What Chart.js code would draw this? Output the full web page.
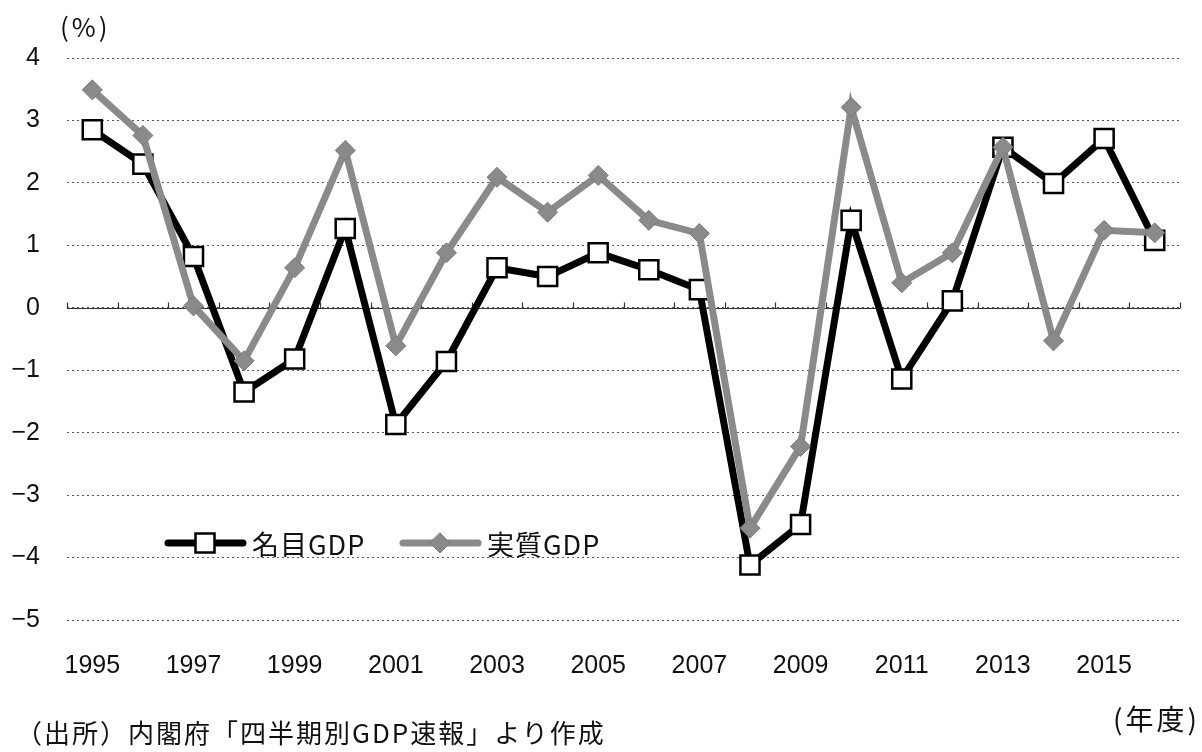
<!DOCTYPE html>
<html>
<head>
<meta charset="utf-8">
<script src="https://cdn.jsdelivr.net/npm/chart.js@4.4.0/dist/chart.umd.min.js"></script>
<style>
  body { margin: 0; background: #fff; }
  #wrap { position: relative; width: 1202px; height: 752px; }
  .txt { position: absolute; color: #111; white-space: nowrap; line-height: 1;
         font-family: "Noto Sans CJK JP", "Liberation Sans", sans-serif; }
</style>
</head>
<body>
<div id="wrap">
  <canvas id="gdp"></canvas>
  <div class="txt" style="left:60px; top:13px; font-size:26px; letter-spacing:3px;">(%)</div>
  <div class="txt" style="left:1113px; top:704px; font-size:28px; letter-spacing:3px;">(年度)</div>
  <div class="txt" style="left:16px; top:719px; font-size:26px; letter-spacing:2px;">（出所）内閣府「四半期別GDP速報」より作成</div>
</div>
<script>
// 年度
const years = ['1995','1996','1997','1998','1999','2000','2001','2002','2003','2004','2005',
  '2006','2007','2008','2009','2010','2011','2012','2013','2014','2015','2016'];

// 名目GDP 成長率 (%)
const nominalGdp = [2.85, 2.3, 0.82, -1.35, -0.82, 1.27, -1.87, -0.86, 0.64, 0.5, 0.88,
  0.61, 0.29, -4.12, -3.47, 1.4, -1.14, 0.11, 2.57, 1.99, 2.71, 1.08];

// 実質GDP 成長率 (%)
const realGdp = [3.49, 2.76, 0.03, -0.85, 0.64, 2.52, -0.61, 0.88, 2.09, 1.53, 2.12,
  1.4, 1.19, -3.53, -2.22, 3.21, 0.4, 0.88, 2.57, -0.53, 1.24, 1.2];

const yTicks = [-5, -4, -3, -2, -1, 0, 1, 2, 3, 4];

const GRAY = '#8a8a8a';

// 0 line with small tick marks at the category borders
const zeroLine = {
  id: 'zeroLine',
  beforeDatasetsDraw(chart) {
    const ctx = chart.ctx, x = chart.scales.x, y = chart.scales.y;
    const y0 = Math.round(y.getPixelForValue(0)) + 0.5;
    ctx.save();
    ctx.strokeStyle = '#333';
    ctx.lineWidth = 1.2;
    ctx.beginPath();
    ctx.moveTo(chart.chartArea.left, y0);
    ctx.lineTo(chart.chartArea.right, y0);
    for (let i = 0; i <= years.length; i++) {
      const px = Math.round(x.getPixelForValue(i - 0.5)) + 0.5;
      ctx.moveTo(px, y0);
      ctx.lineTo(px, y0 - 6);
    }
    ctx.stroke();
    ctx.restore();
  }
};

// legend drawn inside the plot like the original
const inLegend = {
  id: 'inLegend',
  afterDraw(chart) {
    const ctx = chart.ctx;
    const items = [
      { ds: chart.data.datasets[1], x: 168 },
      { ds: chart.data.datasets[0], x: 403 }
    ];
    const yy = 543;
    ctx.save();
    items.forEach(function (it) {
      const ds = it.ds;
      ctx.strokeStyle = ds.borderColor;
      ctx.lineWidth = ds.borderWidth;
      ctx.lineCap = 'round';
      ctx.beginPath();
      ctx.moveTo(it.x, yy);
      ctx.lineTo(it.x + 75, yy);
      ctx.stroke();
      const cx = it.x + 37;
      ctx.lineWidth = ds.pointBorderWidth;
      ctx.strokeStyle = ds.pointBorderColor;
      ctx.fillStyle = ds.pointBackgroundColor;
      ctx.beginPath();
      if (ds.pointStyle === 'rect') {
        ctx.rect(cx - 9.5, yy - 9.5, 19, 19);
      } else {
        const r = ds.pointRadius;
        ctx.moveTo(cx, yy - r); ctx.lineTo(cx + r, yy);
        ctx.lineTo(cx, yy + r); ctx.lineTo(cx - r, yy); ctx.closePath();
      }
      ctx.fill();
      ctx.stroke();
      ctx.fillStyle = '#111';
      ctx.font = '27px "Noto Sans CJK JP", "Liberation Sans", sans-serif';
      ctx.letterSpacing = '1px';
      ctx.textBaseline = 'middle';
      ctx.textAlign = 'left';
      ctx.fillText(ds.label, it.x + 84, yy + 2);
    });
    ctx.restore();
  }
};

new Chart(document.getElementById('gdp'), {
  type: 'line',
  data: {
    labels: years,
    datasets: [{
      label: '実質GDP',
      data: realGdp,
      borderColor: GRAY,
      borderWidth: 7,
      pointStyle: 'rectRot',
      pointRadius: 10,
      pointBackgroundColor: GRAY,
      pointBorderColor: '#7a7a7a',
      pointBorderWidth: 1,
      tension: 0,
      order: 1
    }, {
      label: '名目GDP',
      data: nominalGdp,
      borderColor: '#000',
      borderWidth: 7,
      pointStyle: 'rect',
      pointRadius: 13.5,
      pointBackgroundColor: '#fff',
      pointBorderColor: '#000',
      pointBorderWidth: 2.5,
      tension: 0,
      order: 2
    }]
  },
  options: {
    responsive: true,
    maintainAspectRatio: false,
    animation: false,
    layout: { padding: { top: 58, right: 22, left: 0, bottom: 0 } },
    plugins: {
      legend: { display: false },
      tooltip: { enabled: false }
    },
    scales: {
      x: {
        offset: true,
        grid: { display: false },
        border: { display: false },
        ticks: {
          autoSkip: false,
          maxRotation: 0,
          padding: 23,
          color: '#111',
          font: { family: '"Liberation Sans", Arial, sans-serif', size: 25 },
          callback: function (v, i) { return i % 2 === 0 ? years[i] : ''; }
        },
        afterFit: function (s) { s.height = 132; }
      },
      y: {
        min: -5,
        max: 4,
        afterBuildTicks: function (s) { s.ticks = yTicks.map(function (v) { return { value: v }; }); },
        grid: { color: '#555', lineWidth: 1, drawTicks: false },
        border: { display: false, dash: [2, 3] },
        ticks: {
          padding: 27,
          color: '#111',
          font: { family: '"Liberation Sans", Arial, sans-serif', size: 25 },
          callback: function (v) { return v < 0 ? '−' + Math.abs(v) : String(v); }
        },
        afterFit: function (s) { s.width = 67; }
      }
    }
  },
  plugins: [zeroLine, inLegend]
});
</script>
</body>
</html>
